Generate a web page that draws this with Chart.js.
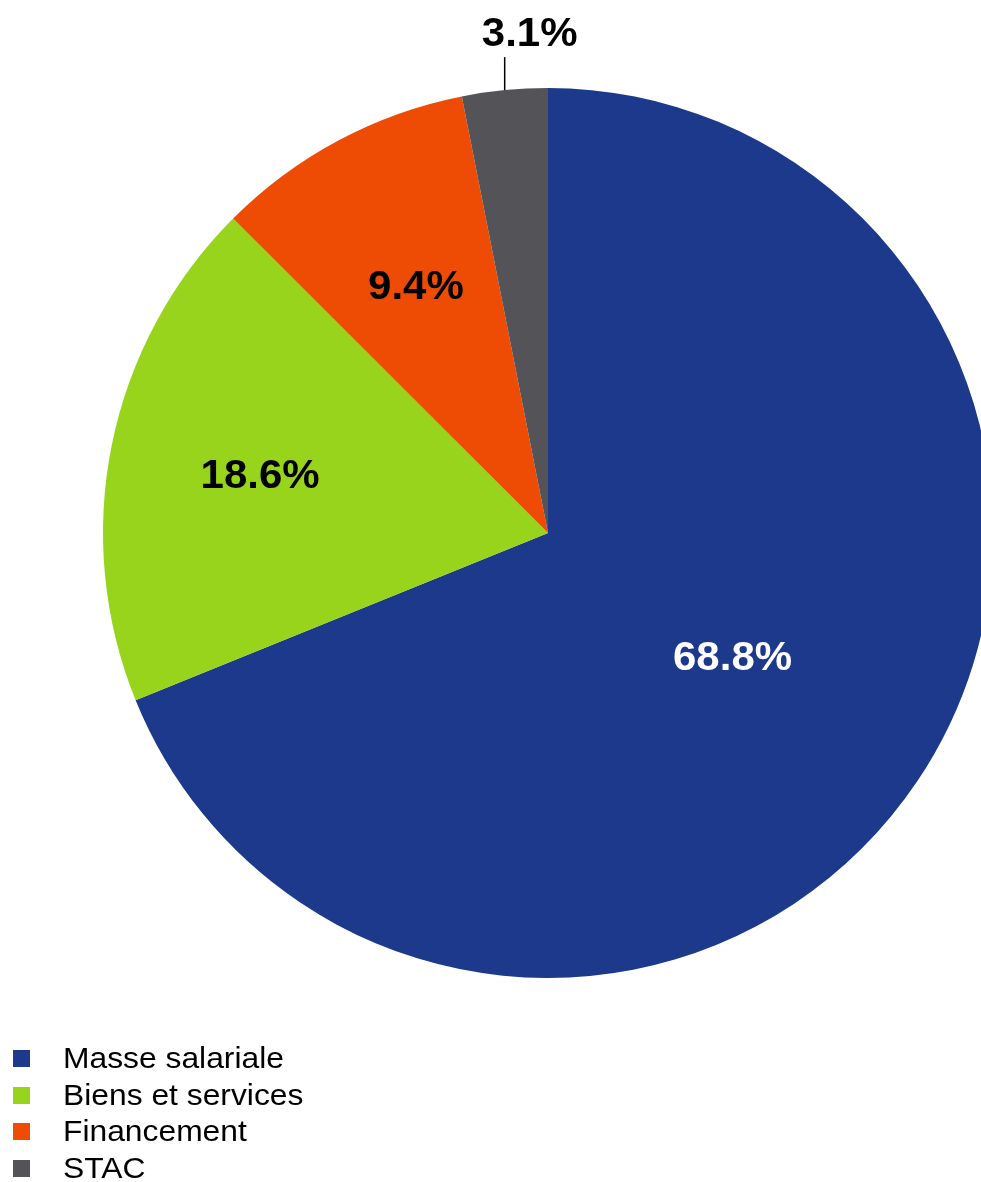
<!DOCTYPE html>
<html>
<head>
<meta charset="utf-8">
<script src="https://cdn.jsdelivr.net/npm/chart.js@4.4.1/dist/chart.umd.min.js"></script>
<style>
  html, body { margin: 0; padding: 0; background: #fff; overflow: hidden; width: 981px; height: 1182px; }
  #wrap { position: absolute; left: 0; top: 0; width: 1096px; height: 1182px; }
  #legend { position: absolute; left: 13px; top: 1040px; font-family: "Liberation Sans", Arial, sans-serif; font-size: 30px; color: #000; }
  .row { position: relative; height: 36.7px; line-height: 36.7px; white-space: nowrap; }
  .sw { position: absolute; left: 0; top: 10px; width: 17px; height: 17px; }
  .tx { position: absolute; left: 50px; top: 0; transform: scaleX(1.06); transform-origin: left center; }
</style>
</head>
<body>
<div id="wrap"><canvas id="c" width="1096" height="1182"></canvas></div>
<div id="legend"></div>
<script>
// Budget breakdown (percent of total)
const categories = ["Masse salariale", "Biens et services", "Financement", "STAC"];
const shares = [68.8, 18.6, 9.4, 3.1];
const valueLabels = ["68.8%", "18.6%", "9.4%", "3.1%"];
const sliceColors = ["#1c398b", "#97d41b", "#ee4b05", "#545458"];

// Label placement: fraction of radius for inside labels, null = outside with leader line
const labelRadiusFrac = [0.5, 0.66, 0.63, null];
const labelColors = ["#ffffff", "#000000", "#000000", "#000000"];

const sliceLabels = {
  id: 'sliceLabels',
  afterDatasetsDraw(chart) {
    const ctx = chart.ctx;
    const meta = chart.getDatasetMeta(0);
    const drawText = (txt, x, y) => {
      ctx.save();
      ctx.translate(x, y);
      ctx.scale(1.05, 1);
      ctx.fillText(txt, 0, 0);
      ctx.restore();
    };
    ctx.save();
    ctx.font = 'bold 40px "Liberation Sans", Arial, sans-serif';
    ctx.textAlign = 'center';
    ctx.textBaseline = 'middle';
    meta.data.forEach((arc, i) => {
      const p = arc.getProps(['x', 'y', 'startAngle', 'endAngle', 'outerRadius'], true);
      const mid = (p.startAngle + p.endAngle) / 2;
      const frac = labelRadiusFrac[i];
      ctx.fillStyle = labelColors[i];
      if (frac !== null) {
        const lx = p.x + Math.cos(mid) * p.outerRadius * frac;
        const ly = p.y + Math.sin(mid) * p.outerRadius * frac;
        drawText(valueLabels[i], lx, ly + 2);
      } else {
        const ex = p.x + Math.cos(mid) * p.outerRadius;
        const ey = p.y + Math.sin(mid) * p.outerRadius;
        ctx.strokeStyle = '#000';
        ctx.lineWidth = 1.5;
        ctx.beginPath();
        ctx.moveTo(ex, ey);
        ctx.lineTo(ex, ey - 33);
        ctx.stroke();
        drawText(valueLabels[i], ex + 25, ey - 55);
      }
    });
    ctx.restore();
  }
};

new Chart(document.getElementById('c'), {
  type: 'pie',
  data: {
    labels: categories,
    datasets: [{
      data: shares,
      backgroundColor: sliceColors,
      borderWidth: 0
    }]
  },
  options: {
    responsive: false,
    animation: false,
    layout: { padding: { top: 88, bottom: 204, left: 0, right: 0 } },
    plugins: {
      legend: { display: false },
      tooltip: { enabled: false }
    }
  },
  plugins: [sliceLabels]
});

// Legend built from the same category/colour arrays
const legend = document.getElementById('legend');
categories.forEach((name, i) => {
  const row = document.createElement('div');
  row.className = 'row';
  const sw = document.createElement('span');
  sw.className = 'sw';
  sw.style.background = sliceColors[i];
  const tx = document.createElement('span');
  tx.className = 'tx';
  tx.textContent = name;
  row.appendChild(sw);
  row.appendChild(tx);
  legend.appendChild(row);
});
</script>
</body>
</html>
